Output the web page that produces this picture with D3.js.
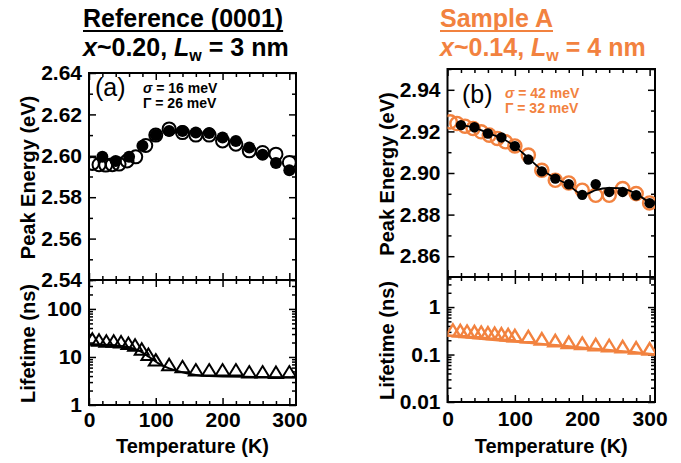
<!DOCTYPE html>
<html><head><meta charset="utf-8">
<script src="https://cdn.jsdelivr.net/npm/d3@7"></script>
<style>body{margin:0;background:#fff} svg{display:block} text{font-family:"Liberation Sans",Arial,Helvetica,sans-serif}</style>
</head><body><svg id="c" width="681" height="463"></svg>
<script>
// ---------- data ----------
const tempTicks = [0, 100, 200, 300];
const tempMinorTicks = [20, 40, 60, 80, 120, 140, 160, 180, 220, 240, 260, 280];
const refEnergyTicks = [2.54, 2.56, 2.58, 2.60, 2.62, 2.64];
const refLifeTicks = [1, 10, 100];
const samEnergyTicks = [2.86, 2.88, 2.90, 2.92, 2.94];
const samLifeTicks = [0.01, 0.1, 1];

const refOpenT = [5, 15, 25, 35, 45, 57, 70, 85, 100, 120, 140, 160, 180, 200, 220, 240, 260, 280, 300];
const refOpenE = [2.5963, 2.5957, 2.5955, 2.5957, 2.5960, 2.5975, 2.5995, 2.6050, 2.6100, 2.6130, 2.6112, 2.6100, 2.6100, 2.6072, 2.6056, 2.6024, 2.6016, 2.6008, 2.5968];
const refFilledT = [20, 40, 60, 80, 100, 120, 140, 160, 180, 200, 220, 240, 260, 280, 300];
const refFilledE = [2.5995, 2.5975, 2.5995, 2.6048, 2.6100, 2.6120, 2.6120, 2.6112, 2.6110, 2.6088, 2.6072, 2.6040, 2.6005, 2.5965, 2.5930];
const refLifeT = [5, 15, 26, 37, 48, 59, 69, 79, 89, 100, 120, 140, 160, 180, 200, 220, 240, 260, 280, 300];
const refLifeV = [23.7, 22.6, 21.5, 21.5, 20.8, 19.3, 17.8, 14.7, 11.4, 8.7, 7.0, 6.3, 5.4, 5.4, 5.4, 5.4, 4.9, 4.9, 4.8, 4.9];
const refFitLifeT = [0, 40, 60, 75, 90, 105, 120, 140, 160, 180, 200, 250, 300, 310];
const refFitLifeV = [18.5, 17.5, 16.0, 13.5, 10.0, 7.2, 5.8, 4.8, 4.2, 4.0, 3.9, 3.85, 3.8, 3.8];

const samOpenT = [4, 14, 26, 38, 50, 62, 74, 86, 100, 120, 140, 160, 180, 200, 220, 240, 260, 280, 300];
const samOpenE = [2.9246, 2.9238, 2.9225, 2.9214, 2.9198, 2.9182, 2.9166, 2.9150, 2.9130, 2.9086, 2.9013, 2.8965, 2.8952, 2.8917, 2.8893, 2.8893, 2.8925, 2.8901, 2.8856];
const samFilledT = [20, 40, 60, 80, 100, 120, 140, 160, 180, 200, 220, 240, 260, 280, 300];
const samFilledE = [2.9230, 2.9220, 2.9190, 2.9171, 2.9129, 2.9065, 2.9008, 2.8973, 2.8946, 2.8895, 2.8946, 2.8909, 2.8909, 2.8893, 2.8855];
const samFitT = [15, 40, 60, 80, 100, 120, 140, 160, 180, 195, 205, 220, 240, 255, 270, 285, 300];
const samFitE = [2.9233, 2.9218, 2.9192, 2.9168, 2.9128, 2.9072, 2.9015, 2.8975, 2.8942, 2.8905, 2.8899, 2.8918, 2.8928, 2.8927, 2.8915, 2.8890, 2.8856];
const samLifeT = [8, 19, 29, 40, 50, 60, 70, 80, 90, 100, 120, 140, 160, 180, 200, 220, 240, 260, 280, 300];
const samLifeV = [0.328, 0.320, 0.310, 0.305, 0.295, 0.286, 0.280, 0.272, 0.264, 0.251, 0.239, 0.214, 0.197, 0.180, 0.173, 0.162, 0.155, 0.147, 0.138, 0.132];
const samFitLifeT = [0, 50, 100, 150, 200, 250, 300, 308];
const samFitLifeV = [0.250, 0.215, 0.187, 0.162, 0.140, 0.120, 0.103, 0.100];

// ---------- drawing ----------
const ORANGE = "#F2823F";
const svg = d3.select("#c");

const tri = {draw(ctx, size) { const w = 14, h = 11.5; ctx.moveTo(0, -h/2); ctx.lineTo(w/2, h/2); ctx.lineTo(-w/2, h/2); ctx.closePath(); }};

function ticks(gen, scale, vals, size, tr) {
  const g = svg.append("g").attr("transform", tr)
    .call(gen(scale).tickValues(vals).tickSize(size).tickFormat(""));
  g.select(".domain").remove();
  g.selectAll("line").attr("stroke", "#000").attr("stroke-width", 1.5);
}
function labels(gen, scale, vals, pad, tr, fmt) {
  const g = svg.append("g").attr("transform", tr)
    .call(gen(scale).tickValues(vals).tickSize(0).tickPadding(pad).tickFormat(fmt));
  g.select(".domain").remove();
  g.selectAll("line").remove();
  g.attr("font-size", null).attr("font-family", null);
  g.selectAll("text").attr("font-size", 21).attr("font-weight", "bold").attr("fill", "#000");
}
function isMajor(v, majors) { return majors.some(m => Math.abs(m - v) < 1e-6 * Math.max(1, Math.abs(m))); }

function panel(cfg) {
  const x = d3.scaleLinear().domain(cfg.xDom).range([cfg.x0, cfg.x1]);
  const yE = d3.scaleLinear().domain(cfg.eDom).range([cfg.yMid, cfg.yTop]);
  const yL = d3.scaleLog().domain(cfg.lDom).range([cfg.yBot, cfg.yMid]);

  svg.append("rect").attr("x", cfg.x0).attr("y", cfg.yTop).attr("width", cfg.x1 - cfg.x0).attr("height", cfg.yBot - cfg.yTop)
    .attr("fill", "none").attr("stroke", "#000").attr("stroke-width", 2);
  svg.append("line").attr("x1", cfg.x0).attr("x2", cfg.x1).attr("y1", cfg.yMid).attr("y2", cfg.yMid).attr("stroke", "#000").attr("stroke-width", 2);

  const M = 7, m = 4;
  [[d3.axisTop, cfg.yTop], [d3.axisBottom, cfg.yMid], [d3.axisTop, cfg.yMid], [d3.axisBottom, cfg.yBot]].forEach(([gen, yy]) => {
    ticks(gen, x, tempTicks, -M, `translate(0,${yy})`);
    ticks(gen, x, tempMinorTicks, -m, `translate(0,${yy})`);
  });
  const eMinor = yE.ticks(10).filter(v => !isMajor(v, cfg.eTicks));
  [[d3.axisLeft, cfg.x0], [d3.axisRight, cfg.x1]].forEach(([gen, xx]) => {
    ticks(gen, yE, cfg.eTicks, -M, `translate(${xx},0)`);
    ticks(gen, yE, eMinor, -m, `translate(${xx},0)`);
  });
  const lMinor = yL.ticks().filter(v => !isMajor(v, cfg.lTicks));
  [[d3.axisLeft, cfg.x0], [d3.axisRight, cfg.x1]].forEach(([gen, xx]) => {
    ticks(gen, yL, cfg.lTicks, -M, `translate(${xx},0)`);
    ticks(gen, yL, lMinor, -m, `translate(${xx},0)`);
  });
  labels(d3.axisLeft, yE, cfg.eTicks, 7, `translate(${cfg.x0},0)`, d3.format(".2f"));
  labels(d3.axisLeft, yL, cfg.lTicks, 7, `translate(${cfg.x0},0)`, d => String(d));
  labels(d3.axisBottom, x, tempTicks, cfg.xPad, `translate(0,${cfg.yBot})`, d3.format("d"));

  const t = (txt, xx, yy, rot) => svg.append("text").attr("transform", `translate(${xx},${yy})` + (rot ? " rotate(-90)" : ""))
    .attr("text-anchor", "middle").attr("font-size", 20).attr("font-weight", "bold").text(txt);
  t("Peak Energy (eV)", cfg.titleX, (cfg.yTop + cfg.yMid) / 2 + 1, true);
  t("Lifetime (ns)", cfg.titleX, (cfg.yMid + cfg.yBot) / 2 + 1, true);
  t("Temperature (K)", (cfg.x0 + cfg.x1) / 2, 453, false);

  const cid = "clip" + cfg.id;
  svg.append("clipPath").attr("id", cid).append("rect").attr("x", cfg.x0).attr("y", cfg.yTop).attr("width", cfg.x1 - cfg.x0).attr("height", cfg.yBot - cfg.yTop);
  const cg = svg.append("g").attr("clip-path", `url(#${cid})`);
  return {x, yE, yL, cg};
}

// ---------- left panel ----------
{
  const P = panel({id: "a", x0: 89, x1: 296, yTop: 73, yMid: 280, yBot: 405, xDom: [0, 310], eDom: [2.54, 2.64], lDom: [1, 400],
    eTicks: refEnergyTicks, lTicks: refLifeTicks, xPad: 7, titleX: 35});
  const {x, yE, yL, cg} = P;
  const open = refOpenT.map((t, i) => [t, refOpenE[i]]);
  const filled = refFilledT.map((t, i) => [t, refFilledE[i]]);
  cg.selectAll(".ro").data(open).join("circle").attr("cx", d => x(d[0])).attr("cy", d => yE(d[1])).attr("r", 6.5)
    .attr("fill", "none").attr("stroke", "#000").attr("stroke-width", 2);
  cg.selectAll(".rf").data(filled).join("circle").attr("cx", d => x(d[0])).attr("cy", d => yE(d[1])).attr("r", 6).attr("fill", "#000");
  const fit = refFitLifeT.map((t, i) => [t, refFitLifeV[i]]);
  cg.append("path").datum(fit).attr("d", d3.line().x(d => x(d[0])).y(d => yL(d[1])).curve(d3.curveMonotoneX))
    .attr("fill", "none").attr("stroke", "#000").attr("stroke-width", 2);
  const life = refLifeT.map((t, i) => [t, refLifeV[i]]);
  cg.selectAll(".rt").data(life).join("path").attr("transform", d => `translate(${x(d[0])},${yL(d[1])})`)
    .attr("d", d3.symbol(tri)).attr("fill", "none").attr("stroke", "#000").attr("stroke-width", 2);

  svg.append("text").attr("x", 95).attr("y", 96).attr("font-size", 25).text("(a)");
  const s1 = svg.append("text").attr("x", 143).attr("y", 93).attr("font-size", 14).attr("font-weight", "bold");
  s1.append("tspan").attr("font-style", "italic").text("σ");
  s1.append("tspan").text(" = 16 meV");
  svg.append("text").attr("x", 143).attr("y", 108).attr("font-size", 14).attr("font-weight", "bold").text("Γ = 26 meV");
}

// ---------- right panel ----------
{
  const P = panel({id: "b", x0: 447.5, x1: 655, yTop: 69, yMid: 277, yBot: 402, xDom: [0, 308], eDom: [2.85, 2.95], lDom: [0.01, 4.3],
    eTicks: samEnergyTicks, lTicks: samLifeTicks, xPad: 9, titleX: 394});
  const {x, yE, yL, cg} = P;
  const open = samOpenT.map((t, i) => [t, samOpenE[i]]);
  const filled = samFilledT.map((t, i) => [t, samFilledE[i]]);
  const fitE = samFitT.map((t, i) => [t, samFitE[i]]);
  cg.selectAll(".so").data(open).join("circle").attr("cx", d => x(d[0])).attr("cy", d => yE(d[1])).attr("r", 6.6)
    .attr("fill", "none").attr("stroke", ORANGE).attr("stroke-width", 2.4);
  cg.append("path").datum(fitE).attr("d", d3.line().x(d => x(d[0])).y(d => yE(d[1])).curve(d3.curveMonotoneX))
    .attr("fill", "none").attr("stroke", "#000").attr("stroke-width", 1.8);
  cg.selectAll(".sf").data(filled).join("circle").attr("cx", d => x(d[0])).attr("cy", d => yE(d[1])).attr("r", 5.2).attr("fill", "#000");
  const fit = samFitLifeT.map((t, i) => [t, samFitLifeV[i]]);
  cg.append("path").datum(fit).attr("d", d3.line().x(d => x(d[0])).y(d => yL(d[1])).curve(d3.curveMonotoneX))
    .attr("fill", "none").attr("stroke", ORANGE).attr("stroke-width", 2.4);
  const life = samLifeT.map((t, i) => [t, samLifeV[i]]);
  cg.selectAll(".st").data(life).join("path").attr("transform", d => `translate(${x(d[0])},${yL(d[1])})`)
    .attr("d", d3.symbol(tri)).attr("fill", "none").attr("stroke", ORANGE).attr("stroke-width", 2.4);

  svg.append("text").attr("x", 462).attr("y", 103).attr("font-size", 25).text("(b)");
  const s1 = svg.append("text").attr("x", 505).attr("y", 98).attr("font-size", 14).attr("font-weight", "bold").attr("fill", ORANGE);
  s1.append("tspan").attr("font-style", "italic").text("σ");
  s1.append("tspan").text(" = 42 meV");
  svg.append("text").attr("x", 505).attr("y", 113).attr("font-size", 14).attr("font-weight", "bold").attr("fill", ORANGE).text("Γ = 32 meV");
}

// ---------- titles ----------
function title(x0, l1, xv, lw, color) {
  const t1 = svg.append("text").attr("x", x0).attr("y", 27).attr("font-size", 25).attr("font-weight", "bold").attr("fill", color).text(l1);
  const w = t1.node().getComputedTextLength();
  svg.append("line").attr("x1", x0).attr("x2", x0 + w).attr("y1", 31).attr("y2", 31).attr("stroke", color).attr("stroke-width", 2.2);
  const t2 = svg.append("text").attr("x", x0).attr("y", 56).attr("font-size", 25).attr("font-weight", "bold").attr("fill", color);
  t2.append("tspan").attr("font-style", "italic").text("x");
  t2.append("tspan").text("~" + xv + ", ");
  t2.append("tspan").attr("font-style", "italic").text("L");
  t2.append("tspan").attr("font-size", 16).attr("dy", 5).text("w");
  t2.append("tspan").attr("dy", -5).text(" = " + lw + " nm");
}
title(83, "Reference (0001)", "0.20", 3, "#000");
title(440, "Sample A", "0.14", 4, ORANGE);
</script></body></html>
